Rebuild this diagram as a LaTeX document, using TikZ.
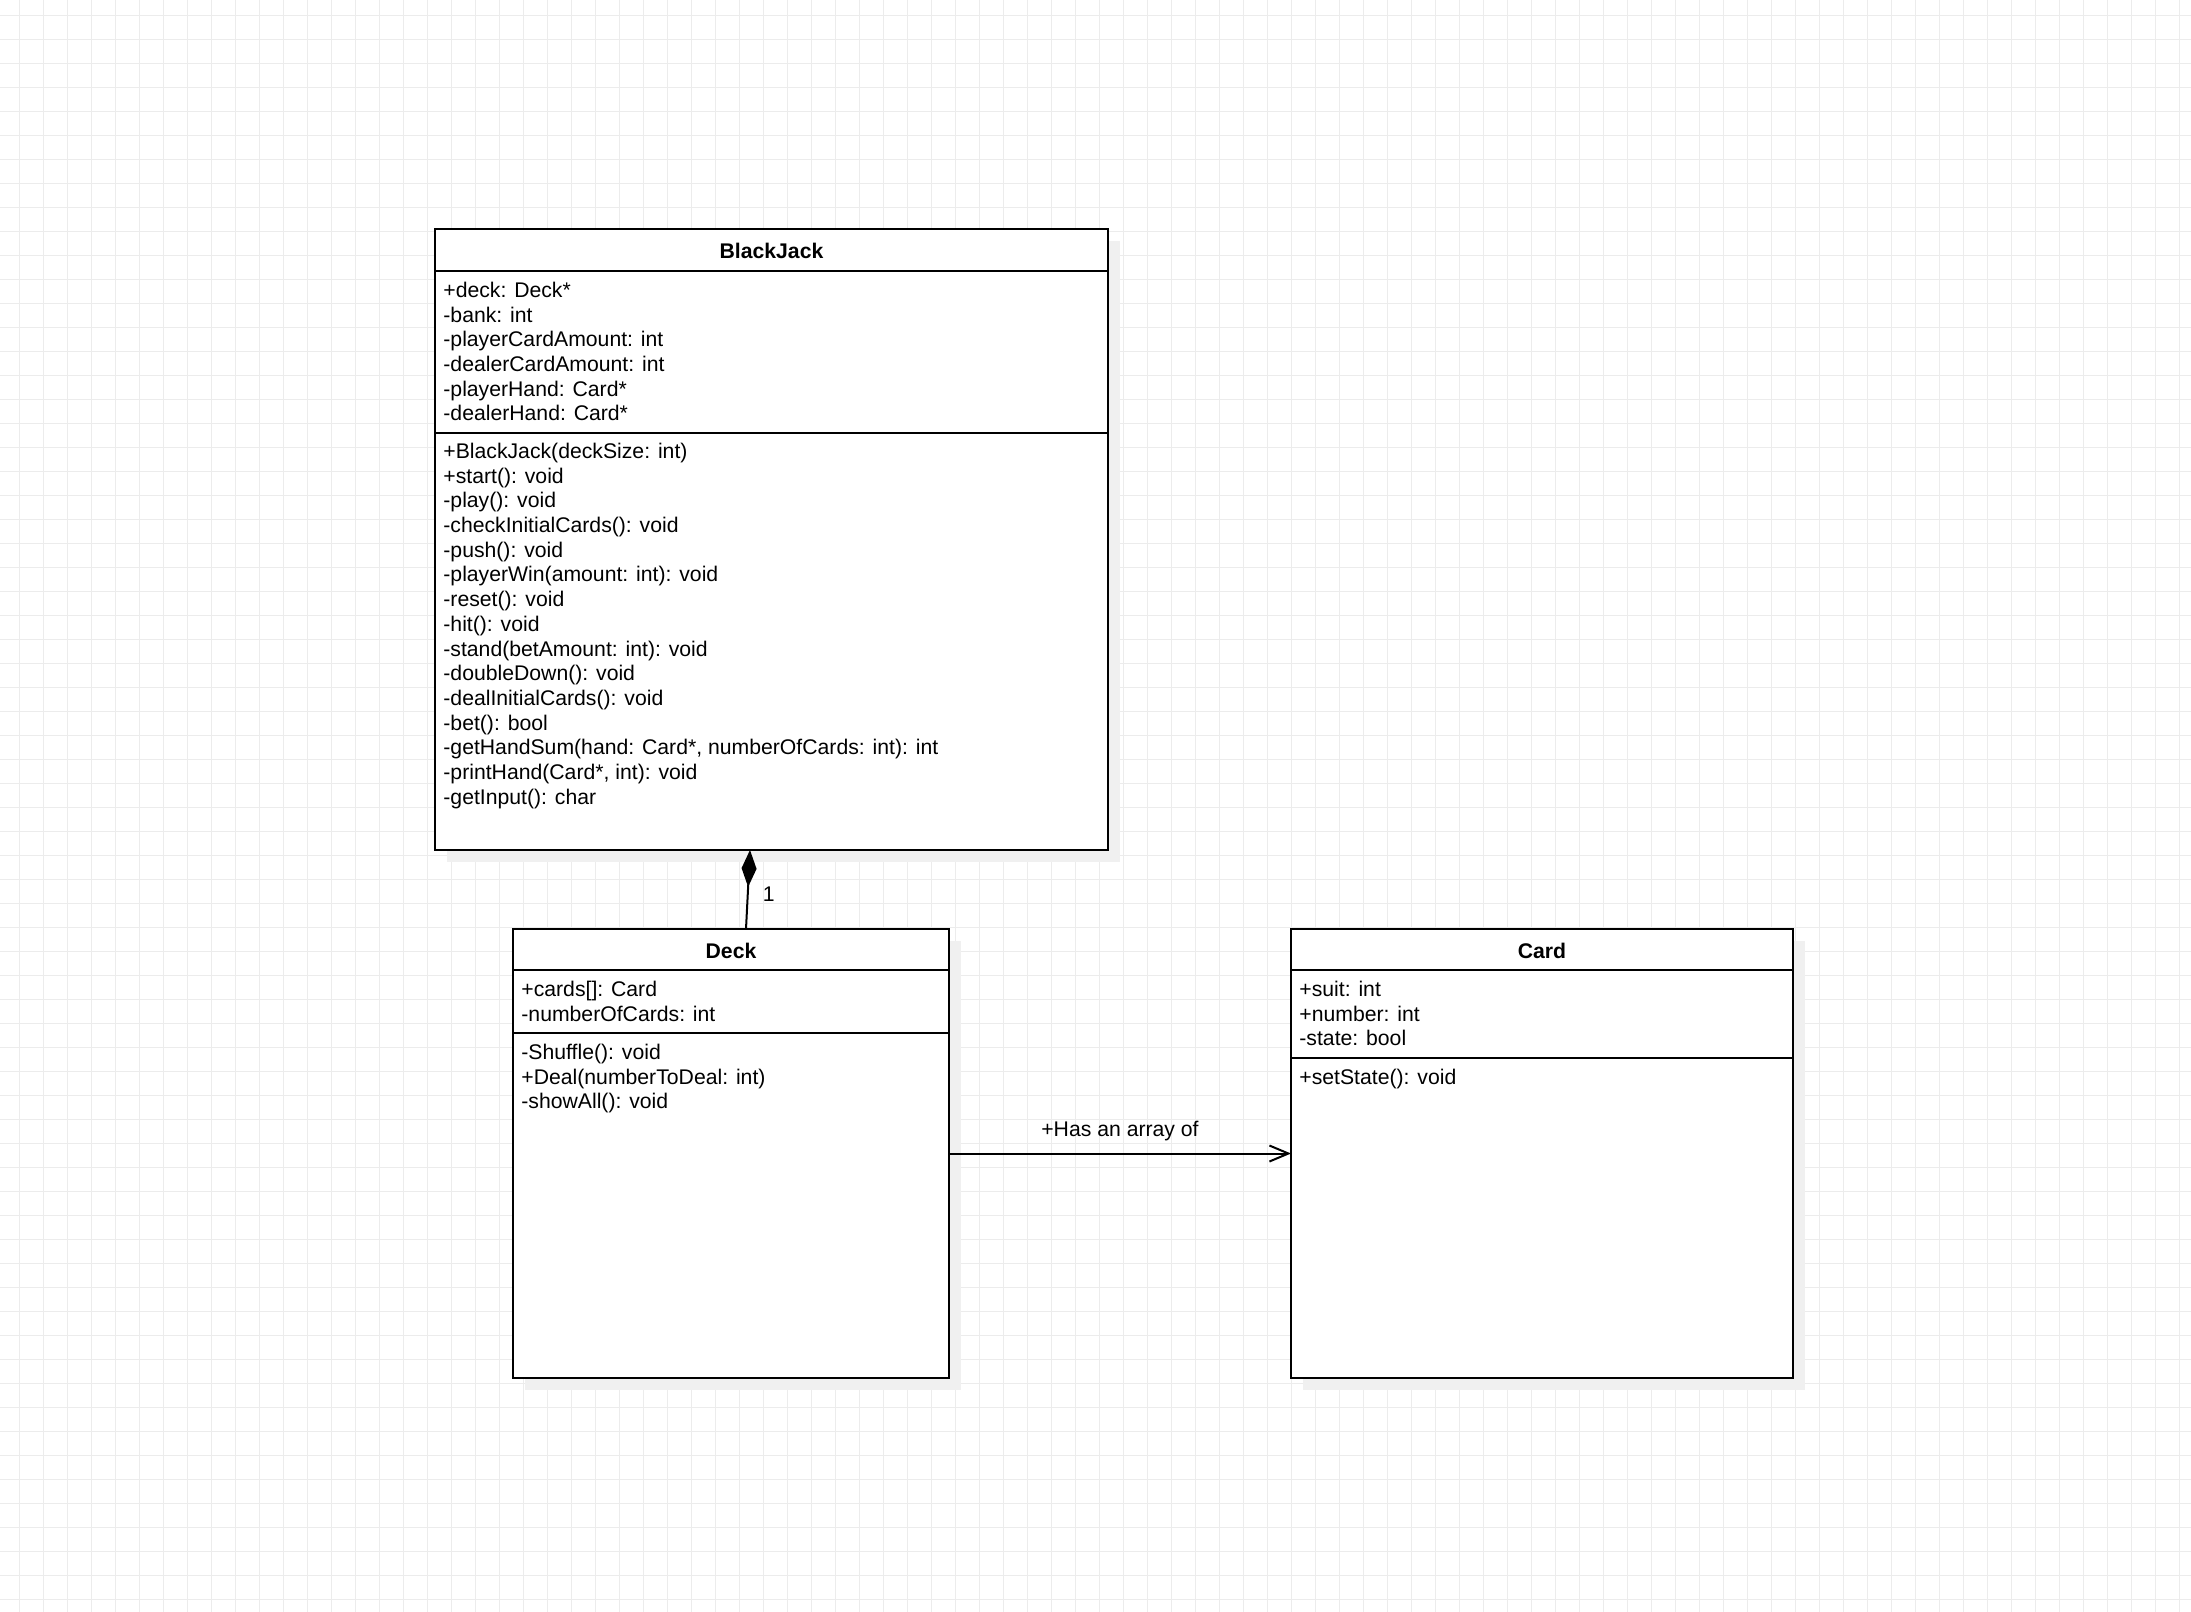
\documentclass[tikz,border=0pt]{standalone}
\usepackage{fontspec}
\setmainfont{Liberation Sans}
\usetikzlibrary{arrows.meta,shadows}

\definecolor{gridgray}{RGB}{236,236,236}
\definecolor{shadowgray}{RGB}{240,240,240}

\begin{document}
\begin{tikzpicture}[x=0.5pt,y=-0.5pt]
		\tikzset{
			classbox/.style={draw,line width=1pt,fill=white,anchor=north west,inner sep=0pt,outer sep=0pt,
				general shadow={fill=shadowgray,shadow xshift=6pt,shadow yshift=-6pt}},
			classname/.style={anchor=base,inner sep=0pt,font=\fontsize{10.6}{12.35}\selectfont\bfseries},
			members/.style={anchor=base west,align=left,inner sep=0pt,font=\fontsize{10.6}{12.35}\selectfont},
			divider/.style={line width=1pt},
			gridline/.style={draw=gridgray,line width=0.5pt},
			composition/.style={line width=1pt,-{Diamond[length=18.5pt,width=7.5pt]}},
			association/.style={line width=1pt,-{Straight Barb[length=9.5pt,width=8pt]}},
			edgelabel/.style={inner sep=0pt,font=\fontsize{10.6}{12.35}\selectfont}
		}
		
		\useasboundingbox (0,0) rectangle (2191,1612);
		
		% background grid
		\foreach \gx in {0,...,90}
			\draw[gridline] (19.3+24*\gx,0) -- (19.3+24*\gx,1612);
		\foreach \gy in {0,...,66}
			\draw[gridline] (0,15+24*\gy) -- (2191,15+24*\gy);
		
		% BlackJack (member nodes sit on the baseline of their last line)
		\node[classbox,minimum width=336.5pt,minimum height=310.5pt] (blackjack) at (435,229) {};
		\draw[divider] ([yshift=-21pt]blackjack.north west) -- ([yshift=-21pt]blackjack.north east);
		\draw[divider] ([yshift=-102pt]blackjack.north west) -- ([yshift=-102pt]blackjack.north east);
		\node[classname] (blackjack-name) at ([yshift=-14.7pt]blackjack.north) {BlackJack};
		\node[members] (blackjack-attrs) at ([xshift=4pt,yshift=-95.95pt]blackjack.north west)
			{+deck: Deck*\\-bank: int\\-playerCardAmount: int\\-dealerCardAmount: int\\-playerHand: Card*\\-dealerHand: Card*};
		\node[members] (blackjack-ops) at ([xshift=4pt,yshift=-287.6pt]blackjack.north west)
			{+BlackJack(deckSize: int)\\+start(): void\\-play(): void\\-checkInitialCards(): void\\-push(): void\\
			 -playerWin(amount: int): void\\-reset(): void\\-hit(): void\\-stand(betAmount: int): void\\
			 -doubleDown(): void\\-dealInitialCards(): void\\-bet(): bool\\
			 -getHandSum(hand: Card*, numberOfCards: int): int\\-printHand(Card*, int): void\\-getInput(): char};
		
		% Deck
		\node[classbox,minimum width=218pt,minimum height=224.5pt] (deck) at (513,929) {};
		\draw[divider] ([yshift=-20.5pt]deck.north west) -- ([yshift=-20.5pt]deck.north east);
		\draw[divider] ([yshift=-52pt]deck.north west) -- ([yshift=-52pt]deck.north east);
		\node[classname] (deck-name) at ([yshift=-14.7pt]deck.north) {Deck};
		\node[members] (deck-attrs) at ([xshift=4pt,yshift=-46.05pt]deck.north west)
			{+cards[]: Card\\-numberOfCards: int};
		\node[members] (deck-ops) at ([xshift=4pt,yshift=-89.9pt]deck.north west)
			{-Shuffle(): void\\+Deal(numberToDeal: int)\\-showAll(): void};
		
		% Card
		\node[classbox,minimum width=251pt,minimum height=224.5pt] (card) at (1291,929) {};
		\draw[divider] ([yshift=-20.5pt]card.north west) -- ([yshift=-20.5pt]card.north east);
		\draw[divider] ([yshift=-64.5pt]card.north west) -- ([yshift=-64.5pt]card.north east);
		\node[classname] (card-name) at ([yshift=-14.7pt]card.north) {Card};
		\node[members] (card-attrs) at ([xshift=4pt,yshift=-58.4pt]card.north west)
			{+suit: int\\+number: int\\-state: bool};
		\node[members] (card-ops) at ([xshift=4pt,yshift=-77.7pt]card.north west)
			{+setState(): void};
		
		% relations
		\draw[composition] ([xshift=7.5pt]deck.north) -- node[edgelabel,pos=0.44,anchor=west,xshift=7pt] (deck-mult) {1} ([xshift=-10.75pt]blackjack.south);
		\draw[association] (deck.east) -- node[edgelabel,yshift=11.3pt] (has-array) {+Has an array of} (card.west);
		
	\end{tikzpicture}
\end{document}
